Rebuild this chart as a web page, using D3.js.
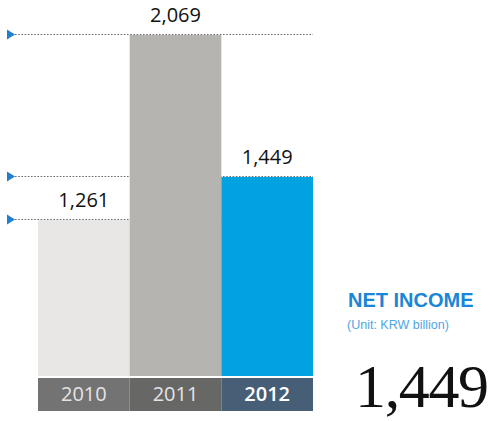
<!DOCTYPE html>
<html>
<head>
<meta charset="utf-8">
<script src="https://cdn.jsdelivr.net/npm/d3@7/dist/d3.min.js"></script>
<style>
  html, body { margin: 0; padding: 0; background: #fff; }
  svg { display: block; }
</style>
</head>
<body>
<svg id="chart" width="493" height="421"></svg>
<script>
// Net income by year (KRW billion)
const years = ["2010", "2011", "2012"];
const netIncome = [1261, 2069, 1449];
const valueLabels = ["1,261", "2,069", "1,449"];
const barColors = ["#e8e7e5", "#b5b4b0", "#00a3e0"];
const bandColors = ["#737373", "#676765", "#475e77"];
const headline = "NET INCOME";
const unitNote = "(Unit: KRW billion)";
const latestLabel = "1,449";

const svg = d3.select("#chart");
const sans = "'Open Sans', 'Noto Sans', sans-serif";

const x = d3.scaleBand().domain(years).range([38, 313]).padding(0);
const y = d3.scaleLinear().domain([580, 2069]).range([376, 35]);

const rows = years.map((yr, i) => ({ yr, v: netIncome[i], label: valueLabels[i], i }));

// Dotted reference lines with blue arrow markers (behind the bars)
const guides = svg.append("g");
guides.selectAll("line").data(rows).join("line")
  .attr("x1", 15).attr("x2", 313)
  .attr("y1", d => Math.round(y(d.v)) - 0.5)
  .attr("y2", d => Math.round(y(d.v)) - 0.5)
  .attr("stroke", "#6b6b6b")
  .attr("stroke-width", 1)
  .attr("stroke-dasharray", "1.6,1.6");
guides.selectAll("path").data(rows).join("path")
  .attr("d", d => {
    const cy = Math.round(y(d.v)) - 0.5;
    return `M7,${cy - 5}L15,${cy}L7,${cy + 5}Z`;
  })
  .attr("fill", "#1f7fd1");

// Bars
svg.append("g").selectAll("rect").data(rows).join("rect")
  .attr("x", d => x(d.yr))
  .attr("width", x.bandwidth())
  .attr("y", d => y(d.v))
  .attr("height", d => y.range()[0] - y(d.v))
  .attr("fill", d => barColors[d.i]);

// Value labels above bars
svg.append("g").selectAll("text").data(rows).join("text")
  .attr("x", d => x(d.yr) + x.bandwidth() / 2)
  .attr("y", d => y(d.v) - 13)
  .attr("text-anchor", "middle")
  .attr("font-family", sans)
  .attr("font-size", 20)
  .attr("fill", "#111")
  .text(d => d.label);

// Year band under the bars
const band = svg.append("g");
band.selectAll("rect").data(rows).join("rect")
  .attr("x", d => x(d.yr))
  .attr("width", x.bandwidth())
  .attr("y", 378)
  .attr("height", 33)
  .attr("fill", d => bandColors[d.i]);
band.selectAll("text").data(rows).join("text")
  .attr("x", d => x(d.yr) + x.bandwidth() / 2)
  .attr("y", 401)
  .attr("text-anchor", "middle")
  .attr("font-family", sans)
  .attr("font-size", 20)
  .attr("font-weight", d => d.i === rows.length - 1 ? 600 : 400)
  .attr("fill", d => d.i === rows.length - 1 ? "#ffffff" : "#e4e4e4")
  .text(d => d.yr);

// Headline block on the right
svg.append("text")
  .attr("x", 348).attr("y", 307)
  .attr("font-family", "'Liberation Sans', Arial, sans-serif")
  .attr("font-weight", 700)
  .attr("font-size", 20)
  .attr("fill", "#1a86d6")
  .text(headline);
svg.append("text")
  .attr("x", 347).attr("y", 329)
  .attr("font-family", "'Liberation Sans', Arial, sans-serif")
  .attr("font-size", 12.5)
  .attr("fill", "#4ea6e3")
  .text(unitNote);
svg.append("text")
  .attr("x", 355).attr("y", 407)
  .attr("font-family", "'Liberation Serif', 'Times New Roman', serif")
  .attr("font-size", 62)
  .attr("textLength", 134)
  .attr("lengthAdjust", "spacing")
  .attr("fill", "#111")
  .text(latestLabel);
</script>
</body>
</html>
